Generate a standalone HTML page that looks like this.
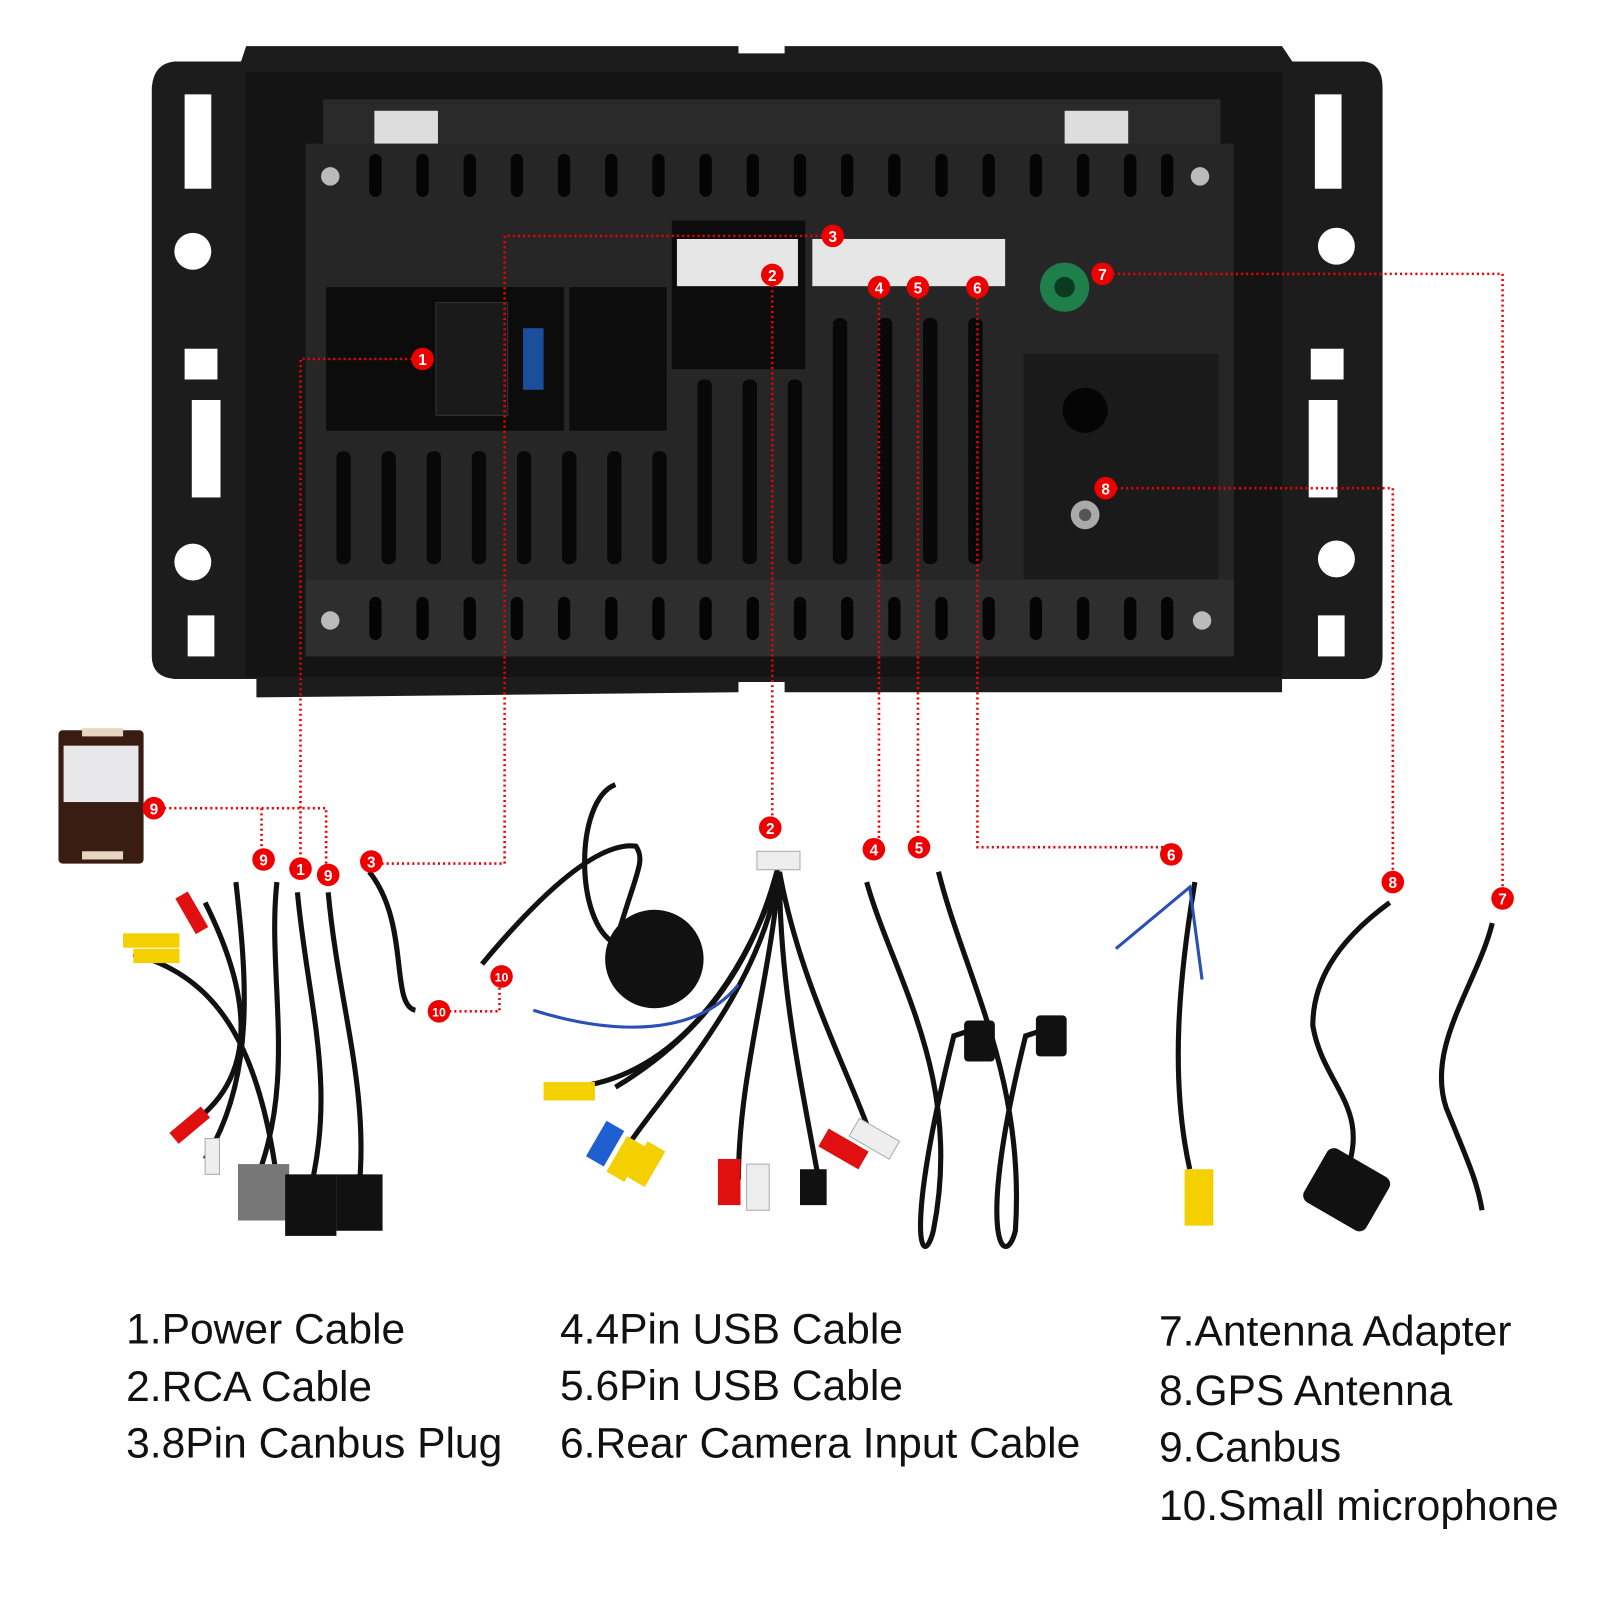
<!DOCTYPE html>
<html><head><meta charset="utf-8"><style>
html,body{margin:0;padding:0;background:#fff;width:1600px;height:1600px;overflow:hidden}
svg{display:block}
text{font-family:"Liberation Sans",sans-serif}
</style></head><body>
<svg width="1600" height="1600" viewBox="0 0 1560 1560" xmlns="http://www.w3.org/2000/svg">
<rect width="1560" height="1560" fill="#fff"/>
<path d="M170,60 L235,60 L240,45 L720,45 L720,52 L765,52 L765,45 L1250,45 L1260,60 L1330,60 Q1348,62 1348,85 L1348,640 Q1348,660 1330,662 L1250,662 L1250,675 L765,675 L765,665 L720,665 L720,675 L250,680 L250,662 L170,662 Q148,660 148,640 L148,85 Q150,62 170,60Z" fill="#1c1c1c"/>
<g fill="#fff">
<rect x="180" y="92" width="26" height="92"/><rect x="180" y="340" width="32" height="30"/><rect x="187" y="390" width="28" height="95"/><rect x="183" y="600" width="26" height="40"/>
<circle cx="188" cy="245" r="18"/><circle cx="188" cy="548" r="18"/>
<rect x="1282" y="92" width="26" height="92"/><rect x="1278" y="340" width="32" height="30"/><rect x="1276" y="390" width="28" height="95"/><rect x="1285" y="600" width="26" height="40"/>
<circle cx="1303" cy="240" r="18"/><circle cx="1303" cy="545" r="18"/>
</g>
<rect x="240" y="70" width="1010" height="590" fill="#141414"/>
<rect x="315" y="97" width="875" height="55" fill="#2a2a2a"/>
<rect x="298" y="140" width="905" height="500" fill="#262626"/>
<rect x="298" y="565" width="905" height="75" fill="#2e2e2e"/>
<rect x="365" y="108" width="62" height="32" fill="#ddd"/><rect x="1038" y="108" width="62" height="32" fill="#ddd"/>
<g fill="#0c0c0c">
<rect x="318" y="280" width="232" height="140"/><rect x="555" y="280" width="95" height="140"/>
<rect x="655" y="215" width="130" height="145"/><rect x="998" y="345" width="190" height="220" fill="#1a1a1a"/>
</g>
<g id="vt" fill="#050505">
<rect x="360" y="150" width="12" height="42" rx="6"/><rect x="406" y="150" width="12" height="42" rx="6"/><rect x="452" y="150" width="12" height="42" rx="6"/><rect x="498" y="150" width="12" height="42" rx="6"/><rect x="544" y="150" width="12" height="42" rx="6"/><rect x="590" y="150" width="12" height="42" rx="6"/><rect x="636" y="150" width="12" height="42" rx="6"/><rect x="682" y="150" width="12" height="42" rx="6"/><rect x="728" y="150" width="12" height="42" rx="6"/><rect x="774" y="150" width="12" height="42" rx="6"/><rect x="820" y="150" width="12" height="42" rx="6"/><rect x="866" y="150" width="12" height="42" rx="6"/><rect x="912" y="150" width="12" height="42" rx="6"/><rect x="958" y="150" width="12" height="42" rx="6"/><rect x="1004" y="150" width="12" height="42" rx="6"/><rect x="1050" y="150" width="12" height="42" rx="6"/><rect x="1096" y="150" width="12" height="42" rx="6"/><rect x="1132" y="150" width="12" height="42" rx="6"/>
</g>
<use href="#vt" y="432"/>
<g fill="#080808">
<rect x="328" y="440" width="14" height="110" rx="6"/><rect x="372" y="440" width="14" height="110" rx="6"/><rect x="416" y="440" width="14" height="110" rx="6"/><rect x="460" y="440" width="14" height="110" rx="6"/><rect x="504" y="440" width="14" height="110" rx="6"/><rect x="548" y="440" width="14" height="110" rx="6"/><rect x="592" y="440" width="14" height="110" rx="6"/><rect x="636" y="440" width="14" height="110" rx="6"/>
<rect x="680" y="370" width="14" height="180" rx="6"/><rect x="724" y="370" width="14" height="180" rx="6"/><rect x="768" y="370" width="14" height="180" rx="6"/><rect x="812" y="310" width="14" height="240" rx="6"/><rect x="856" y="310" width="14" height="240" rx="6"/><rect x="900" y="310" width="14" height="240" rx="6"/><rect x="944" y="310" width="14" height="240" rx="6"/>
</g>
<g fill="#bbb"><circle cx="322" cy="172" r="9"/><circle cx="1170" cy="172" r="9"/><circle cx="322" cy="605" r="9"/><circle cx="1172" cy="605" r="9"/></g>
<rect x="660" y="233" width="118" height="46" fill="#e6e6e6"/>
<rect x="792" y="233" width="188" height="46" fill="#e6e6e6"/>
<rect x="425" y="295" width="70" height="110" fill="#1a1a1a" stroke="#333"/>
<rect x="510" y="320" width="20" height="60" fill="#1b4f9c"/>
<circle cx="1038" cy="280" r="24" fill="#1e7f4a"/><circle cx="1038" cy="280" r="10" fill="#0a3a20"/>
<circle cx="1058" cy="400" r="22" fill="#050505"/>
<circle cx="1058" cy="502" r="14" fill="#aaa"/><circle cx="1058" cy="502" r="6" fill="#555"/>
<rect x="57" y="712" width="83" height="130" rx="4" fill="#3a1d12"/>
<rect x="62" y="727" width="73" height="55" fill="#e8e8ea"/>
<rect x="80" y="710" width="40" height="8" fill="#e6d5c0"/><rect x="80" y="830" width="40" height="8" fill="#e6d5c0"/>
<g fill="none" stroke="#111" stroke-width="5">
<path d="M270,860 C260,950 290,1050 250,1150"/><path d="M290,870 C300,980 330,1060 300,1170"/><path d="M320,870 C330,980 360,1060 350,1160"/>
<path d="M230,860 C240,950 250,1050 200,1130"/><path d="M200,880 C240,960 260,1050 180,1100"/>
<path d="M130,930 C200,950 250,1000 270,1150"/><path d="M360,850 C400,900 380,980 405,985"/>
<path d="M760,840 C740,920 700,1000 600,1060"/><path d="M760,850 C750,960 720,1050 720,1150"/><path d="M760,850 C760,960 780,1050 800,1160"/><path d="M760,850 C780,960 830,1050 850,1110"/><path d="M760,850 C740,970 650,1060 610,1120"/><path d="M760,850 C720,970 650,1050 560,1060"/>
<path d="M600,765 C560,780 560,900 600,920 C620,850 630,840 620,825 C580,820 520,880 470,940"/>
<path d="M845,860 C870,950 940,1050 910,1200 C900,1240 880,1210 930,1010 L960,1000"/>
<path d="M915,850 C940,950 1000,1050 990,1200 C980,1240 950,1210 1000,1010 L1030,1000"/>
<path d="M1165,860 C1150,950 1140,1050 1160,1140"/>
<path d="M1355,880 C1300,920 1280,960 1280,1000 C1290,1060 1340,1080 1310,1150"/>
<path d="M1455,900 C1440,960 1390,1020 1410,1080 C1430,1130 1440,1150 1445,1180"/>
</g>
<path d="M520,985 C600,1010 680,1010 720,960" fill="none" stroke="#2a4fb5" stroke-width="3"/>
<path d="M1088,925 L1160,865 L1172,955" fill="none" stroke="#2a4fb5" stroke-width="3"/>
<circle cx="638" cy="935" r="48" fill="#111"/>
<g>
<rect x="232" y="1135" width="50" height="55" fill="#777"/><rect x="278" y="1145" width="50" height="60" fill="#111"/><rect x="328" y="1145" width="45" height="55" fill="#111"/>
<rect x="1278" y="1130" width="70" height="60" rx="8" fill="#111" transform="rotate(30 1313 1160)"/>
<rect x="1155" y="1140" width="28" height="55" fill="#f4d000"/>
<rect x="530" y="1055" width="50" height="18" fill="#f4d000"/>
<rect x="580" y="1095" width="20" height="40" fill="#1f5fcf" transform="rotate(30 590 1115)"/>
<rect x="600" y="1110" width="20" height="40" fill="#f4d000" transform="rotate(30 610 1130)"/>
<rect x="620" y="1115" width="20" height="40" fill="#f4d000" transform="rotate(30 630 1135)"/>
<rect x="700" y="1130" width="22" height="45" fill="#e01010"/><rect x="728" y="1135" width="22" height="45" fill="#eee" stroke="#aaa"/>
<rect x="780" y="1140" width="26" height="35" fill="#111"/>
<rect x="800" y="1110" width="45" height="20" fill="#e01010" transform="rotate(30 822 1120)"/><rect x="830" y="1100" width="45" height="20" fill="#eee" stroke="#aaa" transform="rotate(30 852 1110)"/>
<rect x="120" y="910" width="55" height="14" fill="#f4d000"/><rect x="130" y="925" width="45" height="14" fill="#f4d000"/>
<rect x="180" y="870" width="14" height="40" fill="#e01010" transform="rotate(-30 187 890)"/>
<rect x="165" y="1090" width="40" height="14" fill="#e01010" transform="rotate(-40 185 1097)"/>
<rect x="200" y="1110" width="14" height="35" fill="#eee" stroke="#aaa"/>
<rect x="738" y="830" width="42" height="18" fill="#eee" stroke="#aaa"/>
<rect x="940" y="995" width="30" height="40" fill="#111" rx="4"/><rect x="1010" y="990" width="30" height="40" fill="#111" rx="4"/>
</g>
<g fill="none" stroke="#e00" stroke-width="2.5" stroke-dasharray="2 3">
<path d="M412,350 H293 V847"/>
<path d="M812,230 H492 V842 H362"/>
<path d="M753,268 V807"/>
<path d="M857,280 V828"/>
<path d="M895,280 V826"/>
<path d="M953,280 V826 H1142"/>
<path d="M1075,267 H1465 V876"/>
<path d="M1078,476 H1358 V860"/>
<path d="M150,788 H318 V853 M255,788 V838"/>
<path d="M428,986 H487 V952"/>
</g>
<g font-size="15" font-weight="bold" fill="#fff" text-anchor="middle">
<g fill="#e00">
<circle cx="412" cy="350" r="11"/><circle cx="293" cy="847" r="11"/><circle cx="812" cy="230" r="11"/><circle cx="362" cy="840" r="11"/>
<circle cx="753" cy="268" r="11"/><circle cx="751" cy="807" r="11"/><circle cx="857" cy="280" r="11"/><circle cx="852" cy="828" r="11"/>
<circle cx="895" cy="280" r="11"/><circle cx="896" cy="826" r="11"/><circle cx="953" cy="280" r="11"/><circle cx="1142" cy="833" r="11"/>
<circle cx="1075" cy="267" r="11"/><circle cx="1465" cy="876" r="11"/><circle cx="1078" cy="476" r="11"/><circle cx="1358" cy="860" r="11"/>
<circle cx="150" cy="788" r="11"/><circle cx="257" cy="838" r="11"/><circle cx="320" cy="853" r="11"/>
<circle cx="489" cy="952" r="11"/><circle cx="428" cy="986" r="11"/>
</g>
<text x="412" y="356">1</text><text x="293" y="853">1</text><text x="812" y="236">3</text><text x="362" y="846">3</text>
<text x="753" y="274">2</text><text x="751" y="813">2</text><text x="857" y="286">4</text><text x="852" y="834">4</text>
<text x="895" y="286">5</text><text x="896" y="832">5</text><text x="953" y="286">6</text><text x="1142" y="839">6</text>
<text x="1075" y="273">7</text><text x="1465" y="882">7</text><text x="1078" y="482">8</text><text x="1358" y="866">8</text>
<text x="150" y="794">9</text><text x="257" y="844">9</text><text x="320" y="859">9</text>
<text x="489" y="957" font-size="12">10</text><text x="428" y="991" font-size="12">10</text>
</g>
<g font-size="41.5" fill="#111">
<text x="123" y="1310">1.Power Cable</text>
<text x="123" y="1366">2.RCA Cable</text>
<text x="123" y="1421">3.8Pin Canbus Plug</text>
<text x="546" y="1310">4.4Pin USB Cable</text>
<text x="546" y="1365">5.6Pin USB Cable</text>
<text x="546" y="1421">6.Rear Camera Input Cable</text>
<text x="1130" y="1312">7.Antenna Adapter</text>
<text x="1130" y="1370">8.GPS Antenna</text>
<text x="1130" y="1425">9.Canbus</text>
<text x="1130" y="1482">10.Small microphone</text>
</g>
</svg>
</body></html>
